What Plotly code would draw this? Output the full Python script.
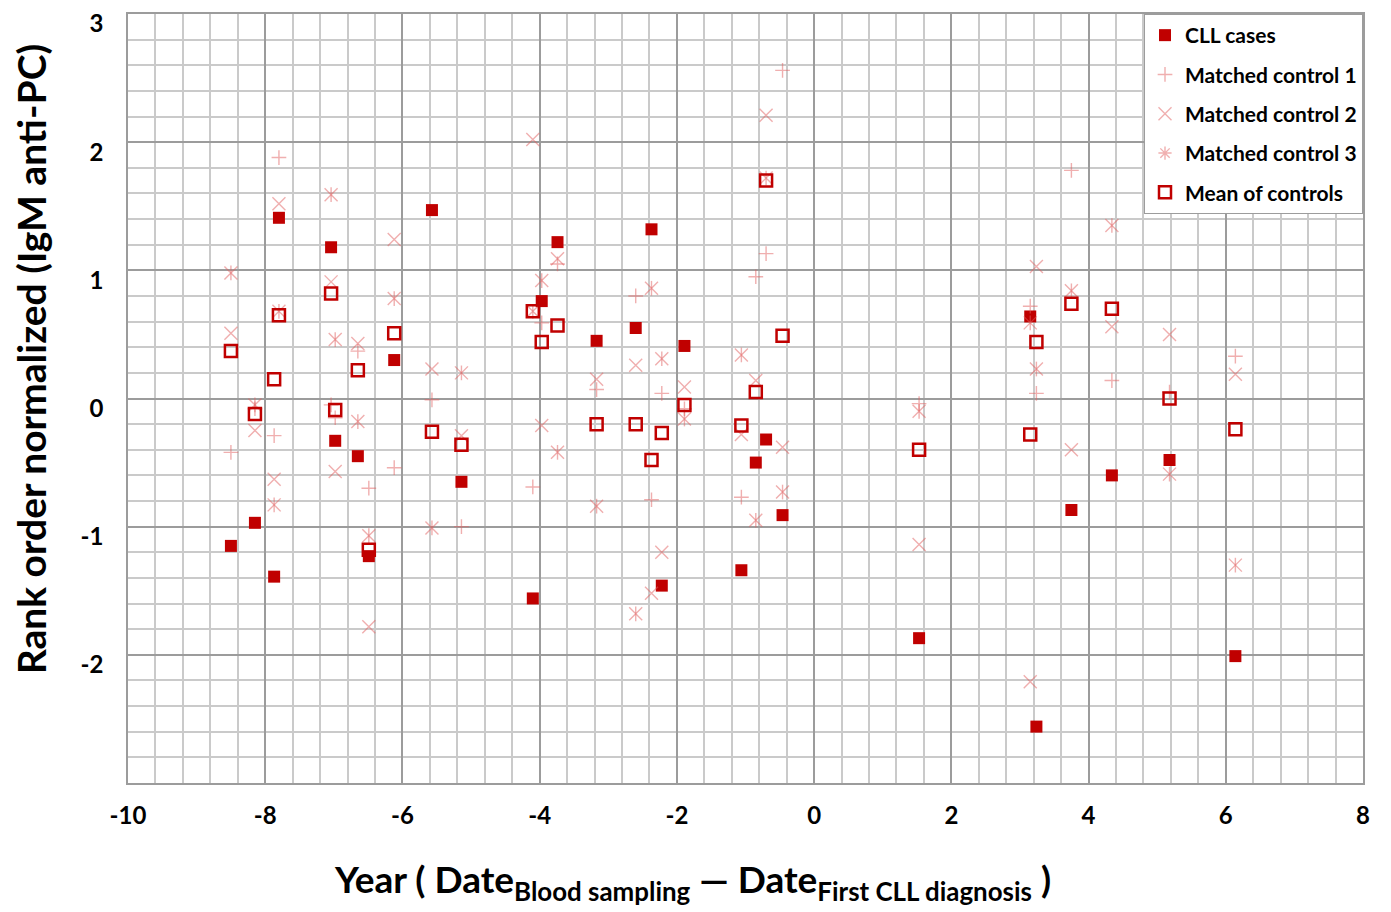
import plotly.graph_objects as go

# ---------------- data ----------------
case_x = [-8.50, -8.15, -7.80, -7.87, -7.04, -6.98, -6.65, -6.49, -6.12, -5.57,
          -5.14, -4.10, -3.97, -3.74, -3.17, -2.60, -2.37, -2.22, -1.89, -1.06,
          -0.85, -0.70, -0.46, 1.53, 3.15, 3.24, 3.75, 4.34, 5.18, 6.14]
case_y = [-1.15, -0.97, 1.41, -1.39, 1.18, -0.33, -0.45, -1.23, 0.30, 1.47,
          -0.65, -1.56, 0.76, 1.22, 0.45, 0.55, 1.32, -1.46, 0.41, -1.34,
          -0.50, -0.32, -0.91, -1.87, 0.64, -2.56, -0.87, -0.60, -0.48, -2.01]
mean_y = [0.37, -0.12, 0.65, 0.15, 0.82, -0.09, 0.22, -1.18, 0.51, -0.26,
          -0.36, 0.68, 0.44, 0.57, -0.20, -0.20, -0.48, -0.27, -0.05, -0.21,
          0.05, 1.70, 0.49, -0.40, -0.28, 0.44, 0.74, 0.70, 0.00, -0.24]
ctrl1_y = [-0.42, -0.08, 1.88, -0.29, -0.05, -0.15, 0.37, -0.70, -0.54, -0.01,
           -1.00, -0.69, 0.59, 1.05, 0.07, 0.80, -0.79, 0.04, -0.08, -0.77,
           0.95, 1.13, 2.56, -0.04, 0.72, 0.04, 1.78, 0.14, 0.05, 0.33]
ctrl2_y = [0.51, -0.25, 1.52, -0.63, 0.91, -0.57, 0.43, -1.78, 1.24, 0.23,
           -0.29, 2.02, -0.21, 1.09, 0.15, 0.26, -1.52, -1.20, 0.09, -0.28,
           0.14, 2.21, -0.38, -1.14, -2.21, 1.03, -0.40, 0.56, 0.50, 0.19]
ctrl3_y = [0.98, -0.05, 0.68, -0.83, 1.59, 0.46, -0.18, -1.07, 0.78, -1.01,
           0.20, 0.68, 0.92, -0.42, -0.84, -1.68, 0.86, 0.31, -0.16, 0.34,
           -0.95, 1.72, -0.73, -0.10, 0.59, 0.23, 0.84, 1.35, -0.59, -1.30]

x_tick_vals = [-10, -8, -6, -4, -2, 0, 2, 4, 6, 8]
y_tick_vals = [-2, -1, 0, 1, 2, 3]

series_names = ["CLL cases", "Matched control 1", "Matched control 2",
                "Matched control 3", "Mean of controls"]

# ---------------- style ----------------
CASE = "#C00000"
CTRL = "rgba(225,95,95,0.5)"
FONT = "Lato"
MAJOR = "#9c9c9c"
MINOR = "#cacaca"

fig = go.Figure()

fig.add_trace(go.Scatter(
    x=case_x, y=case_y, mode="markers", name=series_names[0], legendgroup="g0",
    marker=dict(symbol="square", size=12, color=CASE, line=dict(width=0))))

fig.add_trace(go.Scatter(
    x=case_x, y=ctrl1_y, mode="markers", name=series_names[1], legendgroup="g1",
    marker=dict(symbol="cross-thin-open", size=10.5, color=CTRL,
                line=dict(color=CTRL, width=1.4))))

fig.add_trace(go.Scatter(
    x=case_x, y=ctrl2_y, mode="markers", name=series_names[2], legendgroup="g2",
    marker=dict(symbol="x-thin-open", size=13, color=CTRL,
                line=dict(color=CTRL, width=1.4))))

# legend entry for control 3 (star marker)
fig.add_trace(go.Scatter(
    x=[None], y=[None], mode="markers", name=series_names[3], legendgroup="g3",
    marker=dict(symbol="asterisk-open", size=11, color=CTRL,
                line=dict(color=CTRL, width=1.4))))
# control 3 points: x plus vertical stroke (Excel star)
fig.add_trace(go.Scatter(
    x=case_x, y=ctrl3_y, mode="markers", name=series_names[3], legendgroup="g3",
    showlegend=False,
    marker=dict(symbol="x-thin-open", size=13, color=CTRL,
                line=dict(color=CTRL, width=1.4))))
fig.add_trace(go.Scatter(
    x=case_x, y=ctrl3_y, mode="markers", name=series_names[3], legendgroup="g3",
    showlegend=False,
    marker=dict(symbol="line-ns-open", size=10.5, color=CTRL,
                line=dict(color=CTRL, width=1.4))))

fig.add_trace(go.Scatter(
    x=case_x, y=mean_y, mode="markers", name=series_names[4], legendgroup="g4",
    marker=dict(symbol="square-open", size=12, color=CASE,
                line=dict(color=CASE, width=2.5))))

W, H = 1391, 912
L, R, T, B = 128, 28, 8, 129

fig.update_layout(
    width=W, height=H,
    margin=dict(l=L, r=R, t=T, b=B),
    paper_bgcolor="white", plot_bgcolor="white",
    font=dict(family=FONT, color="black"),
    showlegend=True,
    legend=dict(
        x=1, xanchor="right", y=1, yanchor="top",
        bgcolor="white", bordercolor=MAJOR, borderwidth=1,
        font=dict(family=FONT, size=21, color="black", weight="bold"),
        tracegroupgap=9, itemwidth=30,
    ),
    xaxis=dict(
        range=[-10, 8], tickmode="array", tickvals=x_tick_vals,
        ticktext=[str(v) for v in x_tick_vals],
        showgrid=True, gridcolor=MAJOR, gridwidth=1.5,
        minor=dict(tickmode="linear", tick0=-10, dtick=0.4, showgrid=True,
                   gridcolor=MINOR, gridwidth=1.5),
        showline=True, linecolor=MAJOR, linewidth=1.5, mirror=True,
        zeroline=False, ticks="",
        tickfont=dict(family=FONT, size=24, color="black", weight="bold"),
        ticklabelstandoff=10,
    ),
    yaxis=dict(
        range=[-3, 3], tickmode="array", tickvals=y_tick_vals,
        ticktext=[str(v) for v in y_tick_vals],
        showgrid=True, gridcolor=MAJOR, gridwidth=1.5,
        minor=dict(tickmode="linear", tick0=-3, dtick=0.2, showgrid=True,
                   gridcolor=MINOR, gridwidth=1.5),
        showline=True, linecolor=MAJOR, linewidth=1.5, mirror=True,
        zeroline=False, ticks="",
        tickfont=dict(family=FONT, size=24, color="black", weight="bold"),
        ticklabelstandoff=18, ticklabelshift=10,
    ),
)

plot_w = W - L - R
plot_h = H - T - B

# y-axis title
fig.add_annotation(
    text="<b>Rank order normalized (IgM anti-PC)</b>",
    xref="paper", yref="paper",
    x=(31 - L) / plot_w, y=(H - B - 356) / plot_h,
    xanchor="center", yanchor="middle", textangle=-90, showarrow=False,
    font=dict(family=FONT, size=39, color="black"))

# x-axis title
fig.add_annotation(
    text="<b>Year ( Date<sub>Blood sampling</sub> — Date<sub>First CLL diagnosis</sub> )</b>",
    xref="paper", yref="paper",
    x=(692 - L) / plot_w, y=-(882 - (H - B)) / plot_h,
    xanchor="center", yanchor="middle", showarrow=False,
    font=dict(family=FONT, size=37, color="black"))

fig.write_html("out.html")
